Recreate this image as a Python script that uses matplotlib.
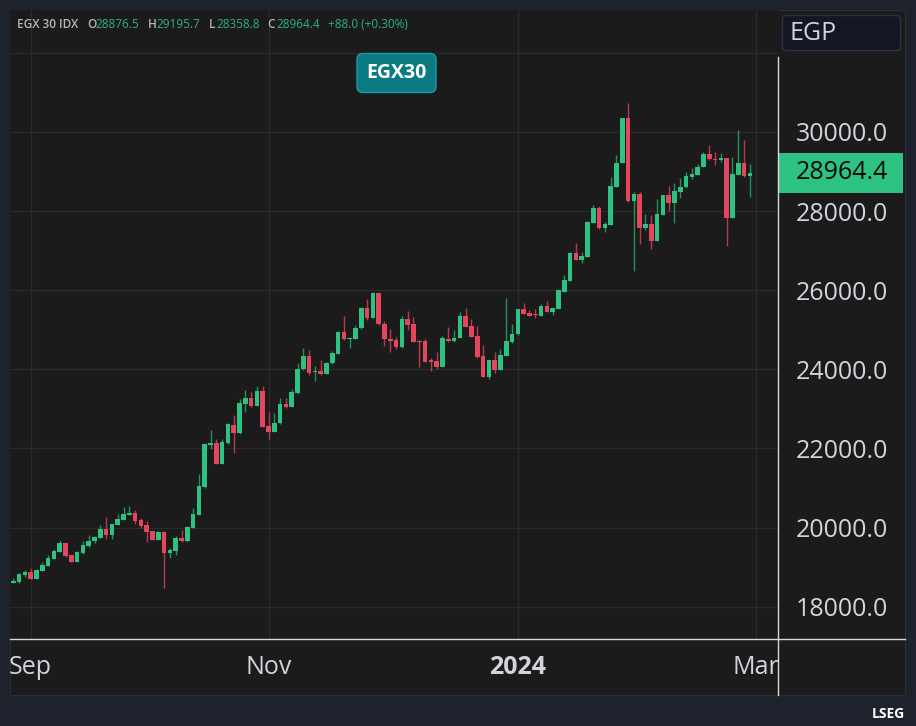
import matplotlib
matplotlib.use('Agg')
import matplotlib.pyplot as plt
import matplotlib.transforms as mtransforms
from matplotlib.patches import Rectangle, FancyBboxPatch
from matplotlib.lines import Line2D

plt.rcParams['font.family'] = ['Open Sans', 'DejaVu Sans']

# daily candles, EGX 30 (one entry per trading day)
opens = [18601, 18618, 18811, 18879, 18710, 18904, 19039, 19207, 19384, 19603,
         19300, 19140, 19350, 19527, 19654, 19746, 19965, 19805, 20066, 20193,
         20319, 20361, 20184, 20066, 19915, 19696, 19898, 19359, 19409, 19746,
         19654, 19999, 20327, 21017, 22087, 22137, 21607, 22129, 22592, 22382,
         23123, 23266, 23072, 23443, 22567, 22424, 22634, 23123, 23056, 23392,
         24001, 24329, 23925, 23959, 23883, 24152, 24388, 24936, 24759, 24776,
         25037, 25550, 25306, 25921, 25155, 24776, 24750, 24557, 25273, 25155,
         24725, 24708, 24228, 24211, 24068, 24767, 24708, 24784, 25348, 25096,
         24851, 24338, 23815, 24237, 23984, 24338, 24683, 24885, 25517, 25424,
         25382, 25348, 25601, 25449, 25525, 25963, 26241, 26948, 26763, 26847,
         27707, 28069, 27580, 27648, 28616, 29223, 30343, 28263, 28431, 27572,
         27673, 27252, 27900, 28406, 28195, 28490, 28600, 28861, 28911, 29113,
         29450, 29315, 29282, 29332, 27833, 28911, 29206, 28876.5]
highs = [18736, 18845, 18921, 18980, 18950, 19140, 19300, 19468, 19696, 19620,
         19310, 19400, 19654, 19805, 19780, 20075, 20268, 20100, 20353, 20513,
         20538, 20437, 20252, 20167, 19925, 19910, 19905, 19477, 19780, 19932,
         20030, 20487, 21346, 22146, 22457, 22238, 22238, 22634, 22845, 23241,
         23477, 23435, 23578, 23586, 22929, 22904, 23275, 23275, 23494, 24152,
         24548, 24489, 24085, 24236, 24194, 24464, 24978, 25348, 24810, 25121,
         25584, 25778, 25963, 25938, 25222, 25020, 24826, 25348, 25475, 25323,
         24730, 24776, 24287, 24430, 24843, 25079, 25004, 25449, 25550, 25273,
         25096, 24616, 24245, 24430, 24514, 25795, 25146, 25530, 25668, 25500,
         25525, 25652, 25727, 25550, 26022, 26384, 26960, 27184, 26957, 27740,
         28145, 28128, 27732, 28852, 29417, 30360, 30722, 28490, 28490, 27926,
         27900, 28296, 28415, 28633, 28700, 28827, 28995, 29080, 29189, 29501,
         29669, 29501, 29476, 29340, 29357, 30048, 29796, 29195.7]
lows = [18595, 18610, 18752, 18693, 18700, 18895, 19030, 19200, 19380, 19265,
        19120, 19130, 19345, 19520, 19603, 19740, 19721, 19704, 20060, 20185,
        20310, 20092, 19999, 19637, 19690, 19690, 18474, 19232, 19308, 19637,
        19645, 19990, 20320, 21000, 21986, 21600, 21600, 22120, 21893, 22375,
        22929, 23060, 23065, 22540, 22230, 22415, 22625, 23030, 23050, 23385,
        23995, 23857, 23714, 23866, 23875, 24145, 24380, 24742, 24531, 24770,
        25030, 25247, 25300, 25130, 24590, 24447, 24514, 24550, 24995, 24690,
        24068, 24185, 23967, 24001, 24060, 24700, 24700, 24780, 25070, 24820,
        24279, 23808, 23748, 23900, 23976, 24330, 24675, 24878, 25390, 25350,
        25306, 25340, 25440, 25374, 25520, 25955, 26230, 26755, 26679, 26840,
        27700, 27547, 27479, 27640, 28610, 29215, 28237, 26485, 27168, 27521,
        27041, 27245, 27890, 28010, 27707, 28321, 28590, 28818, 28905, 29105,
        29300, 29164, 29231, 27125, 27825, 28900, 28860, 28358.8]
closes = [18643, 18820, 18879, 18710, 18938, 19047, 19224, 19409, 19603, 19275,
          19131, 19384, 19552, 19670, 19772, 19965, 19805, 20092, 20218, 20344,
          20370, 20176, 20050, 19898, 19696, 19898, 19359, 19426, 19746, 19654,
          20016, 20336, 21043, 22112, 22137, 21607, 22163, 22609, 22382, 23148,
          23266, 23072, 23443, 22550, 22424, 22651, 23123, 23056, 23418, 24009,
          24329, 23916, 23967, 23883, 24161, 24413, 24936, 24759, 24801, 25054,
          25550, 25306, 25921, 25138, 24759, 24725, 24557, 25273, 25121, 24700,
          24683, 24194, 24194, 24068, 24784, 24708, 24801, 25348, 25079, 24826,
          24304, 23815, 24237, 23984, 24354, 24708, 24902, 25517, 25399, 25357,
          25365, 25601, 25449, 25542, 25997, 26258, 26948, 26763, 26864, 27715,
          28069, 27580, 27673, 28625, 29223, 30343, 28263, 28431, 27580, 27673,
          27252, 27926, 28406, 28195, 28507, 28608, 28877, 28928, 29122, 29450,
          29307, 29290, 29332, 27833, 28936, 29206, 28876.4, 28964.4]

month_pos = [3, 44, 87, 128]
month_labels = ['Sep', 'Nov', '2024', 'Mar']
price_ticks = [18000, 20000, 22000, 24000, 26000, 28000, 30000, 32000]

up_col = '#2ec282'
down_col = '#e4475d'
up_wick = '#21915f'
down_wick = '#b53a4f'
text_col = '#d1d4dc'

W, H = 916, 726
fig = plt.figure(figsize=(W / 100, H / 100), dpi=100)
fig.patch.set_facecolor('#1e222d')
# pixel coords measured from the top-left corner
px = mtransforms.Affine2D().scale(1 / W, -1 / H).translate(0, 1) + fig.transFigure

fig.add_artist(Rectangle((9.5, 9.5), 895.5, 685.5, transform=px,
                         fc='#1b1b1b', ec='#2a2e39', lw=0.8, zorder=0))

ax = fig.add_axes([10 / W, 1 - 639.3 / H, 767.5 / W, (639.3 - 9.5) / H])
ax.set_facecolor('#1b1b1b')
for s in ax.spines.values():
    s.set_visible(False)

x = list(range(len(closes)))
body_col = []
wick_col = []
bottoms = []
heights = []
for o, c in zip(opens, closes):
    if c >= o:
        body_col.append(up_col)
        wick_col.append(up_wick)
    else:
        body_col.append(down_col)
        wick_col.append(down_wick)
    bottoms.append(min(o, c))
    heights.append(max(abs(c - o), 25))

ax.vlines(x, lows, highs, colors=wick_col, linewidth=1.0, zorder=2)
ax.bar(x, heights, bottom=bottoms, width=0.8, color=body_col, linewidth=0, zorder=3)

ax.set_xlim(-0.57, 131.76)
ax.set_ylim(17178, 33093)

ax.set_xticks(month_pos)
ax.set_xticklabels(month_labels)
ax.get_xticklabels()[2].set_fontweight('bold')
ax.set_yticks(price_ticks)
ax.set_yticklabels(['%.1f' % v for v in price_ticks[:-1]] + [''])
ax.yaxis.tick_right()
ax.tick_params(axis='both', length=0, colors=text_col, labelsize=18)
ax.tick_params(axis='x', pad=11)
ax.tick_params(axis='y', pad=13)
ax.grid(True, color='#2a2a2a', linewidth=1)
ax.set_axisbelow(True)

# last price marker on the price scale
blend = mtransforms.blended_transform_factory(ax.transAxes, ax.transData)
last = closes[-1]
ax.add_patch(Rectangle((1.0, last - 505), 125 / 767.5, 1011, transform=blend,
                       fc=up_col, ec='none', clip_on=False, zorder=5))
ax.text(1 + 18.5 / 767.5, last, '%.1f' % last, transform=blend, ha='left', va='center',
        fontsize=18, color='#0a0a0a', zorder=6, clip_on=False)

# axis lines
fig.add_artist(Line2D([9.5, 905], [639.3, 639.3], transform=px, color='#d9d9d9', lw=1))
fig.add_artist(Line2D([777.5, 777.5], [57, 695], transform=px, color='#d9d9d9', lw=1))

# currency box
fig.add_artist(FancyBboxPatch((782.5, 15.5), 118, 35, boxstyle='round,pad=0,rounding_size=4',
                              transform=px, fc='#131722', ec='#2f3341', lw=1))
fig.text(790, 34, 'EGP', transform=px, ha='left', va='center', fontsize=18, color=text_col)

# symbol badge
fig.add_artist(FancyBboxPatch((357, 53.5), 79, 39, boxstyle='round,pad=0,rounding_size=6',
                              transform=px, fc='#0b7a83', ec='#1e9ca4', lw=1))
fig.text(396.5, 73, 'EGX30', transform=px, ha='center', va='center', fontsize=14,
         fontweight='bold', color='white')

# OHLC header
green_txt = '#2eb37c'
hdr = [(17, 'EGX 30 IDX', '#b2b5be', 'semibold'),
       (87.3, 'O', '#b2b5be', 'semibold'), (95.7, '28876.5', green_txt, 'normal'),
       (148.3, 'H', '#b2b5be', 'semibold'), (156.7, '29195.7', green_txt, 'normal'),
       (209.3, 'L', '#b2b5be', 'semibold'), (216, '28358.8', green_txt, 'normal'),
       (267.7, 'C', '#b2b5be', 'semibold'), (276, '28964.4', green_txt, 'normal'),
       (328.3, '+88.0 (+0.30%)', green_txt, 'normal')]
for hx, s, col, fw in hdr:
    fig.text(hx, 25, s, transform=px, ha='left', va='center', fontsize=8.5,
             color=col, fontweight=fw)

fig.text(905, 714, 'LSEG', transform=px, ha='right', va='center', fontsize=10,
         fontweight='bold', color='white')

fig.savefig('out.png', dpi=100, facecolor=fig.get_facecolor())
